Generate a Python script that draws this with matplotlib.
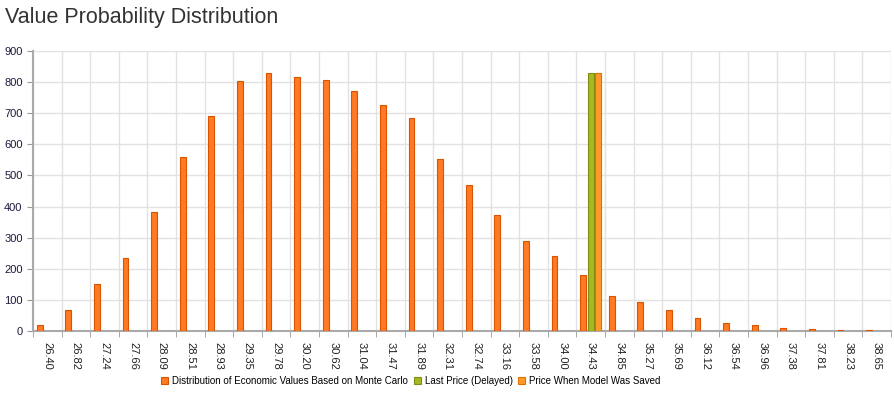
import numpy as np
import matplotlib.pyplot as plt

plt.rcParams['font.family'] = ['Liberation Sans', 'DejaVu Sans']

# Dados
labels = ['26.40', '26.82', '27.24', '27.66', '28.09', '28.51', '28.93', '29.35',
          '29.78', '30.20', '30.62', '31.04', '31.47', '31.89', '32.31', '32.74',
          '33.16', '33.58', '34.00', '34.43', '34.85', '35.27', '35.69', '36.12',
          '36.54', '36.96', '37.38', '37.81', '38.23', '38.65']
distribution = [18, 67, 151, 235, 383, 559, 690, 805, 830, 815, 808, 770, 728, 685,
                553, 468, 372, 290, 240, 180, 113, 93, 67, 42, 25, 18, 10, 6, 4, 4]
last_price = {'34.43': 830}
saved_price = {'34.43': 830}

x = np.arange(len(labels))
w = 0.265
bw = 0.2

fig = plt.figure(figsize=(8.95, 3.98), dpi=100)
ax = fig.add_axes([33 / 895, 1 - 331 / 398, 858 / 895, 280 / 398])

ax.bar(x - w, distribution, width=bw, color='#FF7A22', edgecolor='#D95300',
       linewidth=0.8, label='Distribution of Economic Values Based on Monte Carlo', zorder=3)
lp_x = [labels.index(k) for k in last_price]
ax.bar(x[lp_x], list(last_price.values()), width=bw, color='#A8B824',
       edgecolor='#7E8E10', linewidth=0.8, label='Last Price (Delayed)', zorder=3)
sp_x = [labels.index(k) for k in saved_price]
ax.bar(x[sp_x] + w, list(saved_price.values()), width=bw, color='#FF9A2A',
       edgecolor='#E07000', linewidth=0.8, label='Price When Model Was Saved', zorder=3)

ax.set_xlim(-0.5, len(labels) - 0.5)
ax.set_ylim(0, 900)
ax.set_yticks(np.arange(0, 901, 100))
ax.set_xticks(x)
ax.set_xticklabels(labels, rotation=270, fontsize=8, color='#222222')
ax.set_xticks(np.arange(-0.5, len(labels), 1), minor=True)
ax.tick_params(axis='x', which='major', length=0, pad=8)
ax.tick_params(axis='x', which='minor', length=4, color='#999999')
ax.tick_params(axis='y', labelsize=8, labelcolor='#1a1a3a', length=4, color='#999999')

ax.grid(axis='y', color='#e2e2e2', linewidth=1, zorder=0)
ax.grid(axis='x', which='minor', color='#e2e2e2', linewidth=1, zorder=0)
for s in ['top', 'right']:
    ax.spines[s].set_visible(False)
ax.spines['left'].set_color('#aaaaaa')
ax.spines['bottom'].set_color('#aaaaaa')
ax.spines['left'].set_linewidth(1.5)
ax.spines['bottom'].set_linewidth(1.5)

fig.text(5 / 895, 1 - 18 / 398, 'Value Probability Distribution', fontsize=15.5,
         color='#333333', va='center', ha='left')

fig.legend(loc='center', bbox_to_anchor=(411 / 895, 1 - 381 / 398), ncol=3, frameon=False,
           fontsize=7, handlelength=0.7, handleheight=0.7, handletextpad=0.4,
           columnspacing=0.6)

plt.savefig('out.png', dpi=100)
